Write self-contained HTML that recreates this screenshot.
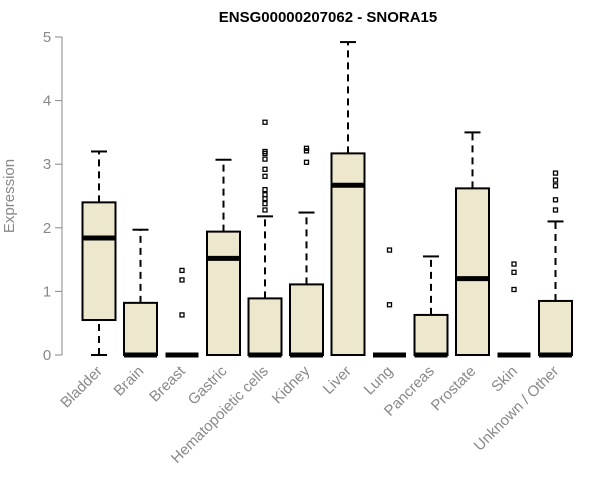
<!DOCTYPE html>
<html><head><meta charset="utf-8"><style>body{margin:0;background:#fff}svg{display:block}</style></head>
<body>
<svg id="chart" width="600" height="500" xmlns="http://www.w3.org/2000/svg" font-family="Liberation Sans, sans-serif">
<text x="328" y="22" text-anchor="middle" font-weight="bold" font-size="15">ENSG00000207062 - SNORA15</text>
<text transform="translate(14,196) rotate(-90)" text-anchor="middle" font-size="15" fill="#888">Expression</text>
<g id="axis"></g><g id="boxes"></g>
</svg>
<script>
const categories=["Bladder","Brain","Breast","Gastric","Hematopoietic cells","Kidney","Liver","Lung","Pancreas","Prostate","Skin","Unknown / Other"];
const whiskLow=[0,0,0,0,0,0,0,0,0,0,0,0];
const q1=[0.55,0,0,0,0,0,0,0,0,0,0,0];
const medians=[1.84,0,0,1.52,0,0,2.67,0,0,1.2,0,0];
const q3=[2.4,0.82,0,1.94,0.89,1.11,3.17,0,0.63,2.62,0,0.85];
const whiskHigh=[3.2,1.97,0,3.07,2.18,2.24,4.92,0,1.55,3.5,0,2.1];
const outliers=[[],[],[1.33,1.18,0.63],[],[3.66,3.2,3.17,3.08,2.92,2.81,2.6,2.52,2.46,2.38,2.28],[3.25,3.21,3.03],[],[1.65,0.79],[],[],[1.43,1.3,1.03],[2.86,2.75,2.66,2.44,2.28]];
const yTicks=[0,1,2,3,4,5];
const NS="http://www.w3.org/2000/svg";
const y=v=>355-v*63.6;
const x=i=>99+i*41.5;
const bw=33;
function mk(t,a,p){const e=document.createElementNS(NS,t);for(const k in a)e.setAttribute(k,a[k]);p.appendChild(e);return e;}
const ax=document.getElementById('axis'),bx=document.getElementById('boxes');
const yl=mk('line',{x1:62,x2:62,y1:y(0),y2:y(5),stroke:'#888'},ax);


yTicks.forEach(v=>{
 const t=mk('line',{x1:55,x2:62,y1:y(v),y2:y(v),stroke:'#888'},ax);
 
 
 const l=mk('text',{x:47,y:y(v)+5,'text-anchor':'middle','font-size':15,fill:'#888'},ax);
 l.textContent=v;
 
 
});
categories.forEach((c,i)=>{
 const cx=x(i);
 const g=mk('g',{},bx);
 
 
 if(whiskHigh[i]>q3[i]){
  mk('line',{x1:cx,x2:cx,y1:y(q3[i]),y2:y(whiskHigh[i]),stroke:'#000','stroke-width':2,'stroke-dasharray':'7,5'},g);
  mk('line',{x1:cx-8,x2:cx+8,y1:y(whiskHigh[i]),y2:y(whiskHigh[i]),stroke:'#000','stroke-width':2},g);
 }
 if(q1[i]>whiskLow[i]){
  mk('line',{x1:cx,x2:cx,y1:y(whiskLow[i]),y2:y(q1[i]),stroke:'#000','stroke-width':2,'stroke-dasharray':'7,5'},g);
  mk('line',{x1:cx-8,x2:cx+8,y1:y(whiskLow[i]),y2:y(whiskLow[i]),stroke:'#000','stroke-width':2},g);
 }
 if(q3[i]>q1[i]) mk('rect',{x:cx-bw/2,y:y(q3[i]),width:bw,height:y(q1[i])-y(q3[i]),fill:'#ede7cd',stroke:'#000','stroke-width':2},g);
 mk('line',{x1:cx-bw/2,x2:cx+bw/2,y1:y(medians[i]),y2:y(medians[i]),stroke:'#000','stroke-width':5},g);
 outliers[i].forEach(o=>{
  const p=mk('rect',{x:cx-2,y:y(o)-2,width:4,height:4,fill:'none',stroke:'#000','stroke-width':1.3},g);
  
  
 });
 const t=mk('text',{transform:`translate(${cx+4},${372}) rotate(-45)`,'text-anchor':'end','font-size':15,fill:'#888'},ax);
 t.textContent=c;
 
 
});
</script>
</body></html>
